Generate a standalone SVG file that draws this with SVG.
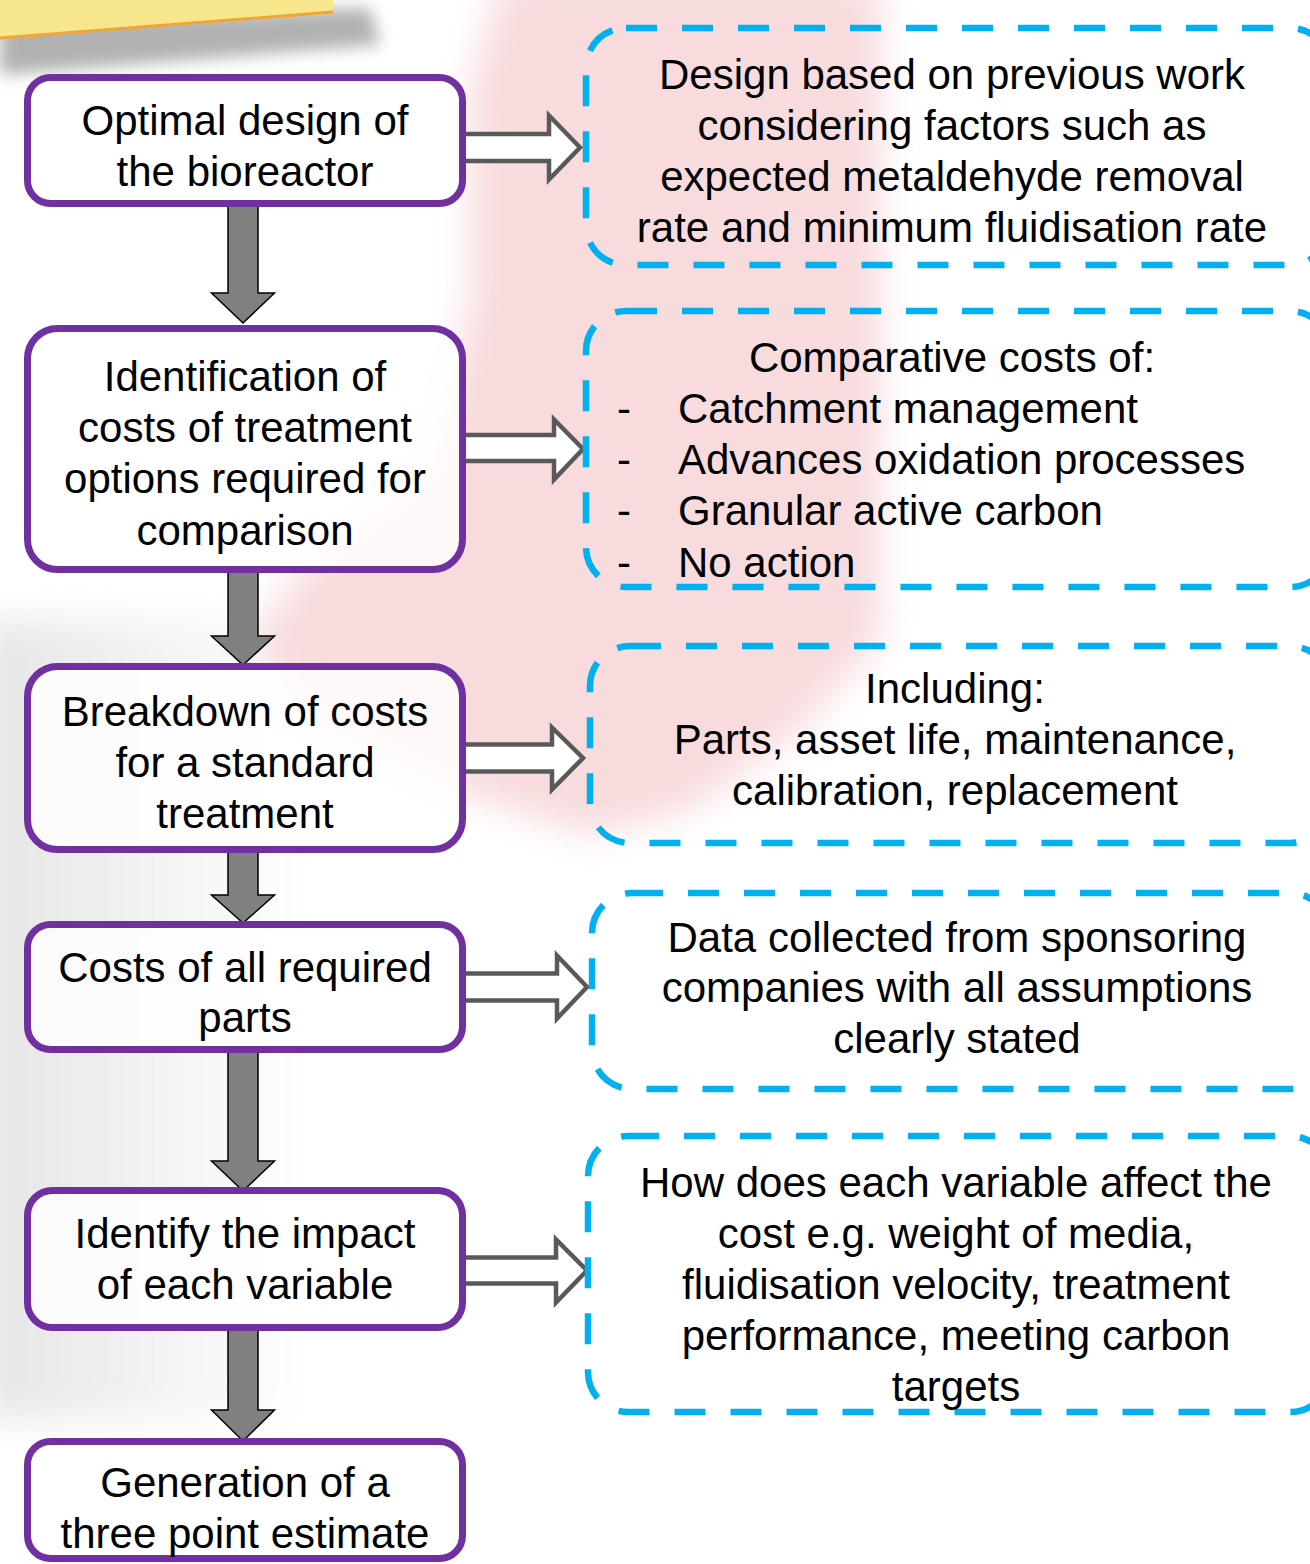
<svg xmlns="http://www.w3.org/2000/svg" width="1310" height="1564" viewBox="0 0 1310 1564">
<defs>
<filter id="blur" x="-30%" y="-30%" width="160%" height="160%"><feGaussianBlur stdDeviation="18"/></filter>
<filter id="sblur" x="-30%" y="-100%" width="160%" height="300%"><feGaussianBlur stdDeviation="8"/></filter>
<linearGradient id="grayfade" x1="0" y1="0" x2="1" y2="0">
<stop offset="0" stop-color="#e2e2e2"/><stop offset="1" stop-color="#e2e2e2" stop-opacity="0"/>
</linearGradient>
</defs>
<style>
.node{fill:#ffffff;fill-opacity:0.8;stroke:#7030A0;stroke-width:7}
.note{fill:none;stroke:#00B0F0;stroke-width:6.5;stroke-dasharray:31 25}
.t{font-family:"Liberation Sans",Arial,sans-serif;font-size:42px;fill:#000;text-anchor:middle}
.tl{font-family:"Liberation Sans",Arial,sans-serif;font-size:42px;fill:#000}
.down{fill:#808080;stroke:#000;stroke-width:1.5;stroke-linejoin:miter}
.right{fill:#ffffff;stroke:#595959;stroke-width:4.5;stroke-linejoin:miter}
</style>
<rect x="0" y="0" width="1310" height="1564" fill="#ffffff"/>
<!-- background decoration -->
<g id="background">
<path d="M500,-20 L880,-20 L880,640 L800,730 L690,810 L590,835 L450,790 L310,720 L250,640 L310,560 L430,470 L470,300 L470,90 Z" fill="#f6cfd1" opacity="0.75" filter="url(#blur)"/>
<rect x="-20" y="620" width="330" height="800" fill="url(#grayfade)" filter="url(#blur)" opacity="0.9"/>
<polygon points="0,20 370,8 380,45 0,75" fill="#555555" opacity="0.45" filter="url(#sblur)"/>
<polygon points="0,0 333,0 333,12 0,38" fill="#F6E68C"/>
<line x1="0" y1="38" x2="333" y2="12" stroke="#F2A531" stroke-width="3"/>
</g>
<g id="connectors">
<polygon class="down" points="228,204 258,204 258,293 274.5,293 243,323 211.5,293 228,293"/>
<polygon class="down" points="228,568 258,568 258,636 274.5,636 243,665 211.5,636 228,636"/>
<polygon class="down" points="228,850 258,850 258,895 274.5,895 243,923 211.5,895 228,895"/>
<polygon class="down" points="228,1050 258,1050 258,1161 274.5,1161 243,1191 211.5,1161 228,1161"/>
<polygon class="down" points="228,1327 258,1327 258,1410 274.5,1410 243,1441 211.5,1410 228,1410"/>
<polygon class="right" points="462,134 549,134 549,115.5 580,147.5 549,179.5 549,161 462,161"/>
<polygon class="right" points="462,435 554,435 554,419.5 583,449 554,479.5 554,461 462,461"/>
<polygon class="right" points="462,744.5 552,744.5 552,727.5 583,758 552,789.5 552,771.5 462,771.5"/>
<polygon class="right" points="462,973.5 557,973.5 557,955.5 587,987 557,1018.5 557,1000.5 462,1000.5"/>
<polygon class="right" points="462,1257.5 556,1257.5 556,1239.5 587,1270.5 556,1302.5 556,1283.5 462,1283.5"/>
</g>
<g id="node-optimal-design">
<rect class="node" x="27.5" y="77.5" width="435" height="126" rx="23"/>
<text class="t" x="245" y="135">Optimal design of</text>
<text class="t" x="245" y="186">the bioreactor</text>
</g>
<g id="node-identification">
<rect class="node" x="27.5" y="328.5" width="435" height="241" rx="30"/>
<text class="t" x="245" y="391">Identification of</text>
<text class="t" x="245" y="442">costs of treatment</text>
<text class="t" x="245" y="493">options required for</text>
<text class="t" x="245" y="545">comparison</text>
</g>
<g id="node-breakdown">
<rect class="node" x="27.5" y="666.5" width="435" height="183" rx="30"/>
<text class="t" x="245" y="726">Breakdown of costs</text>
<text class="t" x="245" y="777">for a standard</text>
<text class="t" x="245" y="828">treatment</text>
</g>
<g id="node-costs-parts">
<rect class="node" x="27.5" y="924.5" width="435" height="125" rx="23"/>
<text class="t" x="245" y="982">Costs of all required</text>
<text class="t" x="245" y="1032">parts</text>
</g>
<g id="node-identify-impact">
<rect class="node" x="27.5" y="1190.5" width="435" height="137" rx="25"/>
<text class="t" x="245" y="1248">Identify the impact</text>
<text class="t" x="245" y="1299">of each variable</text>
</g>
<g id="node-three-point">
<rect class="node" x="27.5" y="1441.5" width="435" height="117" rx="23"/>
<text class="t" x="245" y="1497">Generation of a</text>
<text class="t" x="245" y="1548">three point estimate</text>
</g>
<g id="note-design">
<rect class="note" x="586" y="28" width="744" height="237" rx="40"/>
<text class="t" x="952" y="89">Design based on previous work</text>
<text class="t" x="952" y="140">considering factors such as</text>
<text class="t" x="952" y="191">expected metaldehyde removal</text>
<text class="t" x="952" y="242">rate and minimum fluidisation rate</text>
</g>
<g id="note-comparative">
<rect class="note" x="586" y="311" width="744" height="276" rx="40"/>
<text class="t" x="952" y="372">Comparative costs of:</text>
<text class="tl" x="617" y="423">-</text><text class="tl" x="678" y="423">Catchment management</text>
<text class="tl" x="617" y="474">-</text><text class="tl" x="678" y="474">Advances oxidation processes</text>
<text class="tl" x="617" y="525">-</text><text class="tl" x="678" y="525">Granular active carbon</text>
<text class="tl" x="617" y="577">-</text><text class="tl" x="678" y="577">No action</text>
</g>
<g id="note-including">
<rect class="note" x="590" y="646" width="740" height="197" rx="40"/>
<text class="t" x="955" y="703">Including:</text>
<text class="t" x="955" y="754">Parts, asset life, maintenance,</text>
<text class="t" x="955" y="805">calibration, replacement</text>
</g>
<g id="note-data">
<rect class="note" x="592" y="893" width="738" height="196" rx="40"/>
<text class="t" x="957" y="952">Data collected from sponsoring</text>
<text class="t" x="957" y="1002">companies with all assumptions</text>
<text class="t" x="957" y="1053">clearly stated</text>
</g>
<g id="note-variable">
<rect class="note" x="588" y="1136" width="742" height="276" rx="40"/>
<text class="t" x="956" y="1197">How does each variable affect the</text>
<text class="t" x="956" y="1248">cost e.g. weight of media,</text>
<text class="t" x="956" y="1299">fluidisation velocity, treatment</text>
<text class="t" x="956" y="1350">performance, meeting carbon</text>
<text class="t" x="956" y="1401">targets</text>
</g>
</svg>
